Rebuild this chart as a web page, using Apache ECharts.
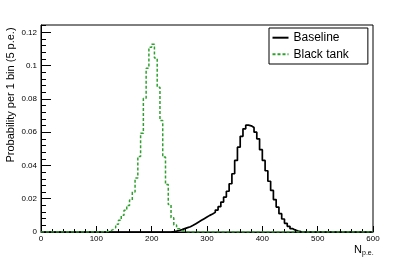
<!DOCTYPE html>
<html><head><meta charset="utf-8">
<script src="https://cdn.jsdelivr.net/npm/echarts@6/dist/echarts.min.js"></script>
<style>html,body{margin:0;padding:0;background:#fff}#c{width:415px;height:258px}</style>
</head><body><div id="c"></div>
<script>
// Histogram: 120 bins of 5 p.e. from 0 to 600
const binWidth = 5;
const xMin = 0, xMax = 600;
const yMax = 0.1244;
const yTickStep = 0.02;
const seriesNames = ['Baseline', 'Black tank'];

// Baseline (black, solid): probability per bin, bins 0..595
const baseline = [
  0,0,0,0,0,0,0,0,0,0,            // 0-45
  0,0,0,0,0,0,0,0,0,0,            // 50-95
  0,0,0,0,0,0,0,0,0,0,            // 100-145
  0,0,0,0,0,0,0,0,0,0,            // 150-195
  0,0,0,0,0,0,0,0.0002,0.0005,0.0009,   // 200-245
  0.0014,0.0020,0.0026,0.0032,0.0040,0.0050,0.0060,0.0070,0.0080,0.0090, // 250-295
  0.0100,0.0108,0.0118,0.0132,0.0152,0.0180,0.0210,0.0245,0.0290,0.0350, // 300-345
  0.0430,0.0510,0.0575,0.0620,0.0642,0.0638,0.0628,0.0600,0.0560,0.0495, // 350-395
  0.0430,0.0368,0.0305,0.0250,0.0195,0.0150,0.0110,0.0078,0.0052,0.0034, // 400-445
  0.0020,0.0011,0.0006,0.0003,0.0001,0,0,0,0,0,   // 450-495
  0,0,0,0,0,0,0,0,0,0,            // 500-545
  0,0,0,0,0,0,0,0,0,0             // 550-595
];

// Black tank (green, dashed): probability per bin, bins 0..595
const blackTank = [
  0,0,0,0,0,0,0,0,0,0,            // 0-45
  0,0,0,0,0,0,0,0,0,0,            // 50-95
  0,0,0.0001,0.0003,0.0006,0.0014,0.0026,0.0046,0.0070,0.0100, // 100-145
  0.0130,0.0160,0.0192,0.0240,0.0324,0.0454,0.0594,0.0804,0.0984,0.1110, // 150-195
  0.1128,0.1045,0.0870,0.0670,0.0450,0.0285,0.0165,0.0085,0.0042,0.0020, // 200-245
  0.0010,0.0004,0.0001,0,0,0,0,0,0,0,  // 250-295
  0,0,0,0,0,0,0,0,0,0,            // 300-345
  0,0,0,0,0,0,0,0,0,0,            // 350-395
  0,0,0,0,0,0,0,0,0,0,            // 400-445
  0,0,0,0,0,0,0,0,0,0,            // 450-495
  0,0,0,0,0,0,0,0,0,0,            // 500-545
  0,0,0,0,0,0,0,0,0,0             // 550-595
];

function toSteps(vals) {
  const pts = vals.map((v, i) => [xMin + i * binWidth, v]);
  pts.push([xMax, vals[vals.length - 1]]);
  return pts;
}

const FONT = '"Liberation Sans", Arial, Helvetica, sans-serif';
const chart = echarts.init(document.getElementById('c'), null, {renderer: 'canvas'});
chart.setOption({
  animation: false,
  backgroundColor: '#fff',
  grid: {left: 41, right: 42, top: 25, bottom: 26, show: true, borderColor: '#000', borderWidth: 1, backgroundColor: 'transparent'},
  xAxis: {
    type: 'value', min: xMin, max: xMax, interval: 100,
    axisLine: {show: true, lineStyle: {color: '#000', width: 1}},
    axisTick: {show: true, inside: true, length: 6, lineStyle: {color: '#000'}},
    minorTick: {show: true, splitNumber: 5, length: 3, lineStyle: {color: '#000'}},
    splitLine: {show: false},
    axisLabel: {fontFamily: FONT, fontSize: 8, color: '#000', margin: 3}
  },
  yAxis: [{
    type: 'value', min: 0, max: yMax, interval: yTickStep, position: 'left',
    axisLine: {show: true, lineStyle: {color: '#000', width: 1}},
    axisTick: {show: true, inside: true, length: 10, lineStyle: {color: '#000'}},
    splitLine: {show: false},
    axisLabel: {fontFamily: FONT, fontSize: 8, color: '#000', margin: 4, showMaxLabel: false}
  }, {
    type: 'value', min: 0, max: yMax, interval: yTickStep / 5, position: 'left',
    axisLine: {show: false},
    axisTick: {show: true, inside: true, length: 5, lineStyle: {color: '#000'}},
    splitLine: {show: false},
    axisLabel: {show: false}
  }],
  legend: {
    left: 269, top: 28, orient: 'vertical',
    itemWidth: 16, itemHeight: 14, itemGap: 2.6,
    padding: [2.7, 19, 2.7, 2.5],
    borderColor: '#000', borderWidth: 1, backgroundColor: '#fff', borderRadius: 0,
    itemStyle: {color: 'transparent', borderWidth: 0, opacity: 0},
    textStyle: {fontFamily: FONT, fontSize: 12, color: '#000', lineHeight: 14},
    data: seriesNames
  },
  graphic: [
    {type: 'text', x: 11, y: 95, rotation: Math.PI / 2,
     style: {text: 'Probability per 1 bin (5 p.e.)', font: '11px ' + FONT, fill: '#000', align: 'center', verticalAlign: 'middle'}},
    {type: 'text', x: 354, y: 255,
     style: {text: 'N', font: '11px ' + FONT, fill: '#000', align: 'left', verticalAlign: 'bottom'}},
    {type: 'text', x: 362, y: 257,
     style: {text: 'p.e.', font: '7px ' + FONT, fill: '#000', align: 'left', verticalAlign: 'bottom'}}
  ],
  series: [{
    name: seriesNames[0], type: 'line', step: 'end', symbol: 'none', yAxisIndex: 0,
    lineStyle: {color: '#000', width: 1.7, type: 'solid'},
    itemStyle: {color: '#000'},
    data: toSteps(baseline)
  }, {
    name: seriesNames[1], type: 'line', step: 'end', symbol: 'none', yAxisIndex: 0,
    lineStyle: {color: '#2fa02f', width: 1.5, type: [3, 2]},
    itemStyle: {color: '#2fa02f'},
    data: toSteps(blackTank)
  }]
});
</script></body></html>
